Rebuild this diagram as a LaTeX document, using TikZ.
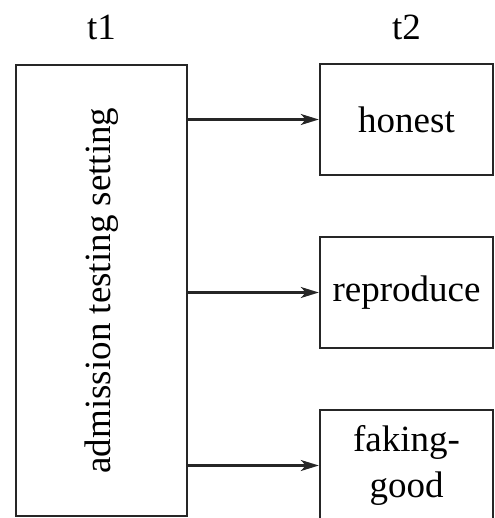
\documentclass[tikz,border=0pt]{standalone}
\usepackage{fontspec}
\setmainfont{Liberation Serif}
\newfontfamily\timesfont{Liberation Serif}
\usetikzlibrary{positioning,arrows.meta,calc}

\begin{document}
\begin{tikzpicture}[x=1pt,y=-1pt,
  box/.style={draw=black!85,line width=2.4pt,inner sep=0pt,align=center,
    font=\timesfont\fontsize{37}{46}\selectfont},
  lbl/.style={font=\timesfont\fontsize{37}{46}\selectfont},
  arr/.style={line width=2.4pt,draw=black!85,-{Stealth[length=18pt,width=11pt,inset=5pt]}}]

\useasboundingbox (0,0) rectangle (494,518);

\node[lbl] (t1) at (101.5,27) {t1};
\node[lbl] (t2) at (406.5,27) {t2};

\node[box,minimum width=171pt,minimum height=451pt] (setting) at (101.5,290.5) {};
\node[rotate=90,lbl] (settingtext) at (setting.center) {admission testing setting};

\node[box,minimum width=173pt,minimum height=111pt] (honest) at (406.5,119.5) {honest};
\node[box,minimum width=173pt,minimum height=111pt] (reproduce) at (406.5,292.5) {reproduce};
\node[box,minimum width=173pt,minimum height=111pt] (faking) at (406.5,465.5) {faking-\\good};

\draw[arr] (setting.east |- honest.west) -- (honest.west);
\draw[arr] (setting.east |- reproduce.west) -- (reproduce.west);
\draw[arr] (setting.east |- faking.west) -- (faking.west);

\end{tikzpicture}
\end{document}
